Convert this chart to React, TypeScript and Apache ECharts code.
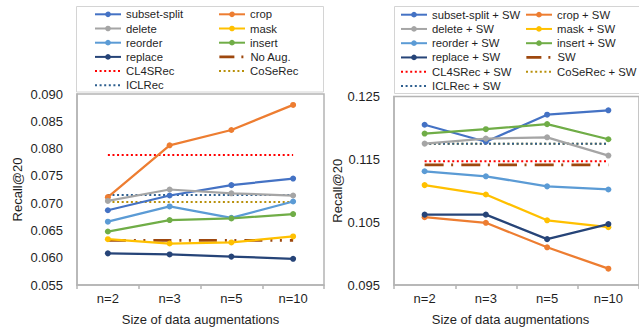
import React, { useEffect, useRef } from "react";
import * as echarts from "echarts";

// ---------- data ----------
const categories = ["n=2", "n=3", "n=5", "n=10"];
const leftTicks = [0.055, 0.06, 0.065, 0.07, 0.075, 0.08, 0.085, 0.09];
const rightTicks = [0.095, 0.105, 0.115, 0.125];

// left panel
const subsetSplit = [0.0687, 0.0714, 0.0733, 0.0745];
const crop = [0.0711, 0.0806, 0.0834, 0.088];
const deleteAug = [0.0704, 0.0725, 0.0718, 0.0714];
const mask = [0.0634, 0.0626, 0.0628, 0.0639];
const reorder = [0.0666, 0.0694, 0.0673, 0.0703];
const insert = [0.0648, 0.0669, 0.0672, 0.068];
const replace = [0.0608, 0.0606, 0.0602, 0.0598];
const noAug = [0.0632, 0.0632, 0.0632, 0.0632];
const cl4srec = [0.0788, 0.0788, 0.0788, 0.0788];
const coserec = [0.0702, 0.0702, 0.0702, 0.0702];
const iclrec = [0.0715, 0.0715, 0.0715, 0.0715];

// right panel
const subsetSplitSW = [0.1205, 0.1178, 0.1221, 0.1228];
const cropSW = [0.1058, 0.1049, 0.101, 0.0976];
const deleteSW = [0.1175, 0.1183, 0.1185, 0.1156];
const maskSW = [0.1109, 0.1094, 0.1053, 0.1042];
const reorderSW = [0.1131, 0.1123, 0.1107, 0.1102];
const insertSW = [0.1191, 0.1198, 0.1206, 0.1182];
const replaceSW = [0.1062, 0.1062, 0.1023, 0.1047];
const swOnly = [0.1141, 0.1141, 0.1141, 0.1141];
const cl4srecSW = [0.1147, 0.1147, 0.1147, 0.1147];
const coserecSW = [0.1175, 0.1175, 0.1175, 0.1175];
const iclrecSW = [0.1175, 0.1175, 0.1175, 0.1175];

// ---------- styles ----------
const FONT = "'Liberation Sans', Arial, sans-serif";
const TEXT = "#1f1f1f";
const AXIS = "#B4B4B4";
const C = {
  blue: "#4472C4",
  orange: "#ED7D31",
  gray: "#A5A5A5",
  yellow: "#FFC000",
  lblue: "#5B9BD5",
  green: "#70AD47",
  dblue: "#264478",
  brown: "#9E480E",
  red: "#FF0000",
  olive: "#B8900A",
  navy: "#2E5F8F",
};

type Kind = "line" | "dot" | "dashdot";
interface S { name: string; data: number[]; color: string; kind: Kind; dash?: number[] }

const leftSeries: S[] = [
  { name: "subset-split", data: subsetSplit, color: C.blue, kind: "line" },
  { name: "crop", data: crop, color: C.orange, kind: "line" },
  { name: "delete", data: deleteAug, color: C.gray, kind: "line" },
  { name: "mask", data: mask, color: C.yellow, kind: "line" },
  { name: "reorder", data: reorder, color: C.lblue, kind: "line" },
  { name: "insert", data: insert, color: C.green, kind: "line" },
  { name: "replace", data: replace, color: C.dblue, kind: "line" },
  { name: "No Aug.", data: noAug, color: C.brown, kind: "dashdot", dash: [18, 8, 2, 7.5, 2, 8] },
  { name: "CL4SRec", data: cl4srec, color: C.red, kind: "dot" },
  { name: "CoSeRec", data: coserec, color: C.olive, kind: "dot" },
  { name: "ICLRec", data: iclrec, color: C.navy, kind: "dot" },
];

const rightSeries: S[] = [
  { name: "subset-split + SW", data: subsetSplitSW, color: C.blue, kind: "line" },
  { name: "crop + SW", data: cropSW, color: C.orange, kind: "line" },
  { name: "delete + SW", data: deleteSW, color: C.gray, kind: "line" },
  { name: "mask + SW", data: maskSW, color: C.yellow, kind: "line" },
  { name: "reorder + SW", data: reorderSW, color: C.lblue, kind: "line" },
  { name: "insert + SW", data: insertSW, color: C.green, kind: "line" },
  { name: "replace + SW", data: replaceSW, color: C.dblue, kind: "line" },
  { name: "SW", data: swOnly, color: C.brown, kind: "dashdot", dash: [19, 7.5, 2, 8.2] },
  { name: "CL4SRec + SW", data: cl4srecSW, color: C.red, kind: "dot" },
  { name: "CoSeRec + SW", data: coserecSW, color: C.olive, kind: "dot" },
  { name: "ICLRec + SW", data: iclrecSW, color: C.navy, kind: "dot" },
];

function buildSeries(list: S[], idx: number) {
  return list.map((s) => {
    const base: any = {
      type: "line",
      name: s.name,
      xAxisIndex: idx,
      yAxisIndex: idx,
      data: s.data,
      color: s.color,
      emphasis: { disabled: true },
    };
    if (s.kind === "line") {
      return {
        ...base,
        symbol: "circle",
        symbolSize: 6,
        lineStyle: { width: 2.25, color: s.color },
        itemStyle: { color: s.color },
        z: 3,
      };
    }
    return {
      ...base,
      symbol: "none",
      lineStyle: {
        width: s.kind === "dashdot" ? 2.75 : 2,
        color: s.color,
        type: s.kind === "dashdot" ? s.dash : [2, 2.6],
      },
      itemStyle: { color: s.color },
      z: 2,
    };
  });
}

function buildLegends(list: S[], colX: number[], y0: number, pitch: number) {
  return list.map((s, i) => {
    const col = i % 2;
    const row = Math.floor(i / 2);
    let item: any = { name: s.name };
    if (s.kind !== "line") {
      item.itemStyle = { color: "rgba(0,0,0,0)", opacity: 0, borderWidth: 0 };
    }
    if (s.kind === "dashdot") {
      item.lineStyle = { type: [15, 7, 2, 10], color: s.color, width: 2.75 };
    }
    return {
      show: true,
      orient: "horizontal",
      left: colX[col],
      top: y0 + row * pitch - 6,
      padding: 0,
      itemWidth: 26,
      itemHeight: 7,
      itemGap: 0,
      selectedMode: false,
      textStyle: { fontSize: 11.3, color: TEXT, fontFamily: FONT, lineHeight: 12 },
      data: [item],
    };
  });
}

function xAxis(idx: number, namePad: number[]) {
  return {
    type: "category",
    gridIndex: idx,
    data: categories,
    boundaryGap: true,
    axisLine: { show: true, lineStyle: { color: AXIS, width: 1.5 } },
    axisTick: { show: true, length: 4, lineStyle: { color: AXIS, width: 1.5 } },
    axisLabel: { fontSize: 13, color: TEXT, fontFamily: FONT, margin: 7 },
    splitLine: { show: false },
    name: "Size of data augmentations",
    nameLocation: "middle",
    nameGap: 28,
    nameTextStyle: { fontSize: 13, color: TEXT, fontFamily: FONT, padding: namePad },
  };
}

function yAxis(idx: number, min: number, max: number, ticks: number[], nameGap: number) {
  return {
    type: "value",
    gridIndex: idx,
    min,
    max,
    axisLine: { show: true, lineStyle: { color: AXIS, width: 1.5 } },
    axisTick: { show: false },
    splitLine: { show: false },
    axisLabel: {
      customValues: ticks,
      fontSize: 13,
      color: TEXT,
      fontFamily: FONT,
      margin: 14,
      formatter: (v: number) => v.toFixed(3),
    },
    name: "Recall@20",
    nameLocation: "middle",
    nameGap,
    nameTextStyle: { fontSize: 13, color: TEXT, fontFamily: FONT },
  };
}

export default function App() {
  const ref = useRef<HTMLDivElement>(null);
  useEffect(() => {
    if (!ref.current) return;
    const chart = echarts.init(ref.current, undefined, { renderer: "svg" });
    chart.setOption({
      animation: false,
      backgroundColor: "#ffffff",
      grid: [
        { left: 77, top: 94, width: 247, height: 191, show: true, borderColor: AXIS, borderWidth: 1.5 },
        { left: 394, top: 96.5, width: 249, height: 188.5, show: true, borderColor: AXIS, borderWidth: 1.5 },
      ],
      xAxis: [xAxis(0, [0, 0, 0, 0]), xAxis(1, [0, 12, 0, 0])],
      yAxis: [
        yAxis(0, 0.055, 0.09, leftTicks, 53.5),
        yAxis(1, 0.095, 0.125, rightTicks, 49.5),
      ],
      legend: [
        ...buildLegends(leftSeries, [94, 218], 14.3, 14.2),
        ...buildLegends(rightSeries, [400, 525], 14.7, 14.25),
      ],
      graphic: [
        {
          type: "rect",
          z: -1,
          shape: { x: 76.5, y: 6.5, width: 247, height: 85.5 },
          style: { fill: "none", stroke: "#D4D4D4", lineWidth: 1 },
        },
        {
          type: "rect",
          z: -1,
          shape: { x: 394.5, y: 6.5, width: 260, height: 87 },
          style: { fill: "none", stroke: "#D4D4D4", lineWidth: 1 },
        },
      ],
      series: [...buildSeries(leftSeries, 0), ...buildSeries(rightSeries, 1)],
    });
    return () => chart.dispose();
  }, []);
  return (
    <div
      ref={ref}
      style={{ position: "fixed", left: 0, top: 0, width: 639, height: 333, background: "#fff" }}
    />
  );
}
